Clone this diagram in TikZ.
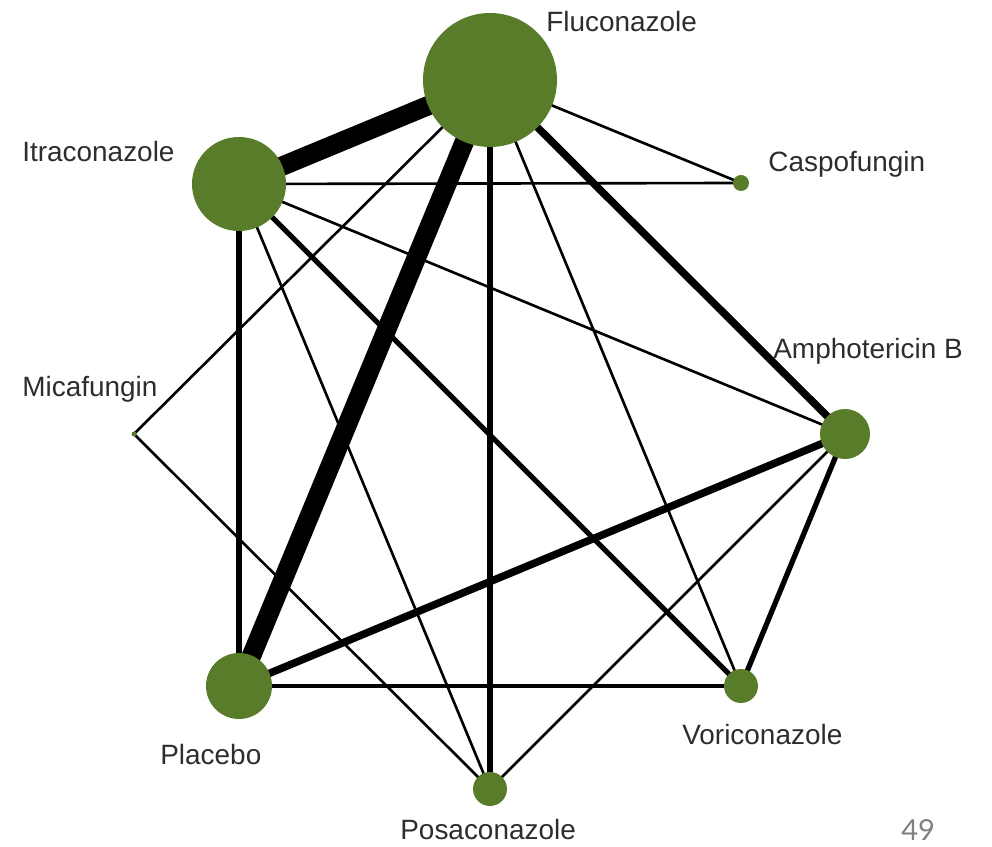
\documentclass[tikz,border=0pt]{standalone}
\usepackage{fontspec}
\setmainfont{Liberation Sans}
\newfontfamily\pagefont{Lato}
\usetikzlibrary{backgrounds}
\definecolor{drugcol}{RGB}{88,124,42}
\definecolor{labelcol}{RGB}{45,45,45}

\begin{document}
\begin{tikzpicture}[x=0.02cm, y=-0.02cm,
  drug/.style={circle, fill=drugcol, inner sep=0pt},
  lbl/.style={anchor=base west, inner sep=0pt, text=labelcol, font=\fontsize{15.9}{18}\selectfont},
  thinlink/.style={line width=1.5pt},
  midlink/.style={line width=3pt},
  thicklink/.style={line width=4.3pt},
  heavylink/.style={line width=11pt}]

\useasboundingbox (0,0) rectangle (992,847);

% ============ NODES: one circle per treatment ============
\node[drug, minimum size=2.68cm] (flu)  at (490,80)  {};
\node[drug, minimum size=1.88cm] (itra) at (239,184) {};
\node[drug, minimum size=0.32cm] (casp) at (741,183) {};
\node[drug, minimum size=1.00cm] (amph) at (845,434) {};
\node[drug, minimum size=0.10cm] (mica) at (134,434) {};
\node[drug, minimum size=1.32cm] (plac) at (239,686) {};
\node[drug, minimum size=0.68cm] (vori) at (741,686) {};
\node[drug, minimum size=0.68cm] (posa) at (490,789) {};

% ============ LABELS ============
\node[lbl] (flulbl)  at (546,32)  {Fluconazole};
\node[lbl] (itralbl) at (22,162)  {Itraconazole};
\node[lbl] (casplbl) at (768,172) {Caspofungin};
\node[lbl] (amphlbl) at (773,359) {Amphotericin B};
\node[lbl] (micalbl) at (22,397)  {Micafungin};
\node[lbl] (placlbl) at (160,765) {Placebo};
\node[lbl] (vorilbl) at (682,745) {Voriconazole};
\node[lbl] (posalbl) at (400,840) {Posaconazole};

% page number
\node[anchor=base west, inner sep=0pt, text=black!50,
  font=\pagefont\fontsize{16.5}{19}\selectfont] (pagenum) at (901,841) {49};

% ============ EDGES (under the circles) ============
\begin{pgfonlayer}{background}
% Fluconazole
\draw[heavylink] (flu.center) -- (itra.center);
\draw[heavylink] (flu.center) -- (plac.center);
\draw[thicklink] (flu.center) -- (amph.center);
\draw[midlink]   (flu.center) -- (posa.center);
\draw[thinlink]  (flu.center) -- (casp.center);
\draw[thinlink]  (flu.center) -- (vori.center);
\draw[thinlink]  (flu.center) -- (mica.center);
% Itraconazole
\draw[thinlink]  (itra.center) -- (casp.center);
\draw[thinlink]  (itra.center) -- (amph.center);
\draw[midlink]   (itra.center) -- (vori.center);
\draw[thinlink]  (itra.center) -- (posa.center);
\draw[midlink]   (itra.center) -- (plac.center);
% Micafungin
\draw[thinlink]  (mica.center) -- (posa.center);
% Placebo
\draw[thicklink] (plac.center) -- (amph.center);
\draw[line width=2.2pt] (plac.center) -- (vori.center);
% Amphotericin B
\draw[midlink]   (amph.center) -- (vori.center);
\draw[thinlink]  (amph.center) -- (posa.center);
\end{pgfonlayer}

\end{tikzpicture}
\end{document}
